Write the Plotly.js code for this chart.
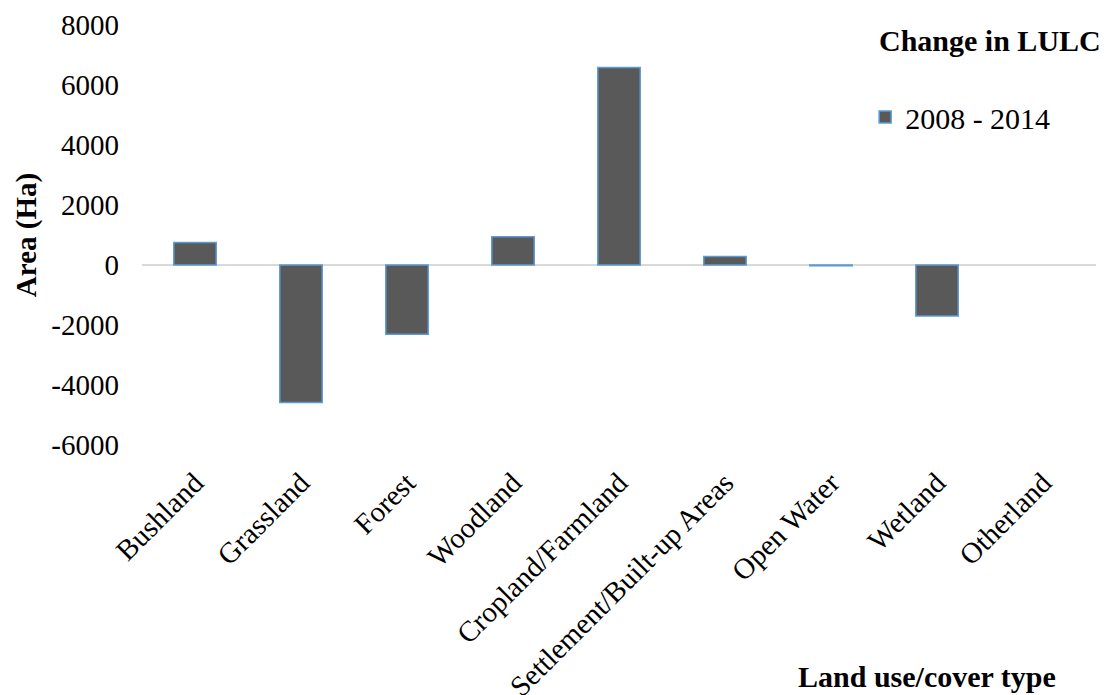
<!DOCTYPE html>
<html>
<head>
<meta charset="utf-8">
<script src="https://cdn.plot.ly/plotly-3.0.1.min.js"></script>
<style>
  html, body { margin: 0; padding: 0; background: #ffffff; }
  #chart { width: 1116px; height: 695px; }
</style>
</head>
<body>
<div id="chart"></div>
<script>
// Land use / land cover classes and their area change (Ha), 2008 - 2014
const categories = [
  "Bushland", "Grassland", "Forest", "Woodland", "Cropland/Farmland",
  "Settlement/Built-up Areas", "Open Water", "Wetland", "Otherland"
];
const change2008_2014 = [750, -4580, -2310, 940, 6580, 280, -25, -1700, 0];
const seriesName = "2008 - 2014";
const yTicks = [-6000, -4000, -2000, 0, 2000, 4000, 6000, 8000];

const serif = '"Liberation Serif", "Times New Roman", Times, serif';

const trace = {
  type: "bar",
  x: categories,
  y: change2008_2014,
  name: seriesName,
  showlegend: true,
  marker: {
    color: "#595959",
    // no outline on empty (zero) bars
    line: { color: "#5b9bd5", width: change2008_2014.map(v => (v === 0 ? 0 : 1.5)) }
  },
  hoverinfo: "x+y"
};

const layout = {
  width: 1116,
  height: 695,
  margin: { l: 142, r: 20, t: 25, b: 250 },
  paper_bgcolor: "#ffffff",
  plot_bgcolor: "#ffffff",
  font: { family: serif, color: "#000000", size: 29 },
  bargap: 0.6,
  showlegend: true,
  legend: {
    x: 0.758, xanchor: "left",
    y: 0.781, yanchor: "middle",
    font: { family: serif, size: 30, color: "#000000" },
    bgcolor: "rgba(0,0,0,0)"
  },
  xaxis: {
    type: "category",
    tickangle: -45,
    showgrid: false,
    showline: false,
    zeroline: false,
    ticks: "",
    ticklabelstandoff: 14,
    tickfont: { family: serif, size: 29, color: "#000000" }
  },
  yaxis: {
    range: [-6000, 8000],
    tickvals: yTicks,
    ticktext: yTicks.map(String),
    showgrid: false,
    showline: false,
    zeroline: true,
    zerolinecolor: "#d9d9d9",
    zerolinewidth: 1.5,
    ticks: "",
    ticklabelstandoff: 22,
    tickfont: { family: serif, size: 29, color: "#000000" },
    title: {
      text: "<b>Area (Ha)</b>",
      font: { family: serif, size: 29, color: "#000000" },
      standoff: 6
    }
  },
  annotations: [
    {
      text: "<b>Change in LULC</b>",
      xref: "paper", yref: "paper",
      x: 1.007, xanchor: "right",
      y: 0.962, yanchor: "middle",
      showarrow: false,
      font: { family: serif, size: 30, color: "#000000" }
    },
    {
      text: "<b>Land use/cover type</b>",
      xref: "paper", yref: "paper",
      x: 0.823, xanchor: "center",
      y: -0.552, yanchor: "middle",
      showarrow: false,
      font: { family: serif, size: 30, color: "#000000" }
    }
  ]
};

Plotly.newPlot("chart", [trace], layout, { displayModeBar: false, staticPlot: true });
</script>
</body>
</html>
